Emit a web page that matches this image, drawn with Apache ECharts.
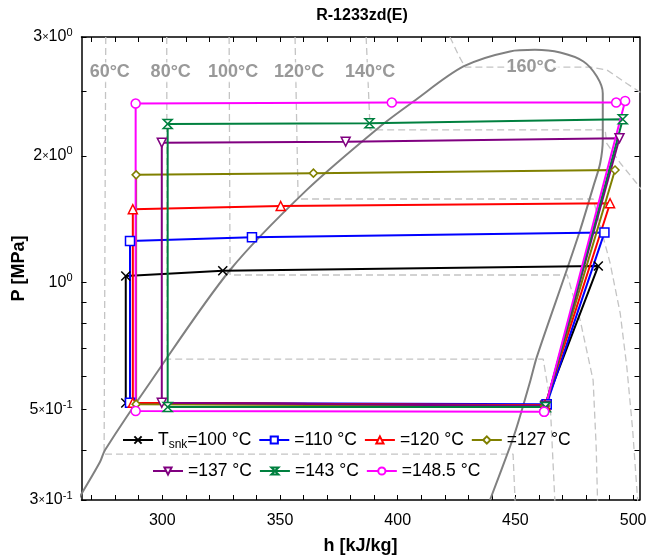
<!DOCTYPE html>
<html><head><meta charset="utf-8">
<script src="https://cdn.jsdelivr.net/npm/echarts@6/dist/echarts.min.js"></script>
<style>html,body{margin:0;padding:0;background:#fff}#c{width:663px;height:559px}</style>
</head><body><div id="c"></div>
<script>
// ---------- data ----------
const seriesNames = ['T_snk=100 °C', '=110 °C', '=120 °C', '=127 °C', '=137 °C', '=143 °C', '=148.5 °C'];
// cycle paths: evaporator outlet -> compressor outlet -> sat. liquid -> subcooled -> after valve -> evaporator outlet
const h100 = [462.6, 485.2, 325.7, 284.5, 284.5, 462.6];
const p100 = [0.512, 1.096, 1.068, 1.037, 0.518, 0.512];
const h110 = [463.3, 487.8, 338.1, 286.3, 286.3, 463.3];
const p110 = [0.515, 1.315, 1.282, 1.256, 0.519, 0.515];
const h120 = [462.6, 490.2, 350.3, 287.5, 287.5, 462.6];
const p120 = [0.512, 1.544, 1.521, 1.494, 0.519, 0.512];
const h127 = [462.6, 492.3, 364.2, 288.9, 288.9, 462.6];
const p127 = [0.510, 1.852, 1.820, 1.803, 0.515, 0.510];
const h137 = [462.8, 494.2, 377.9, 299.8, 299.8, 462.8];
const p137 = [0.510, 2.203, 2.162, 2.150, 0.519, 0.510];
const h143 = [462.8, 495.6, 388.0, 302.3, 302.3, 462.8];
const p143 = [0.507, 2.444, 2.391, 2.382, 0.507, 0.507];
const h148 = [462.2, 496.6, 492.8, 397.5, 288.7, 288.7, 462.2];
const p148 = [0.494, 2.700, 2.677, 2.677, 2.662, 0.496, 0.494];

// saturation dome
const domeH = [264.2, 265.8, 273.6, 275.7, 295.5, 328.8, 361.4, 392.5, 406.7, 427.9, 447.7, 458.3, 469.0, 478.9, 484.6, 487.1, 487.1, 486.0, 483.2, 477.5, 471.8, 459.1, 456.4, 450.6, 447.7, 439.2];
const domeP = [0.305, 0.316, 0.376, 0.401, 0.587, 1.072, 1.661, 2.348, 2.692, 3.26, 3.54, 3.57, 3.518, 3.35, 3.085, 2.818, 2.183, 1.921, 1.70, 1.334, 1.072, 0.667, 0.587, 0.455, 0.408, 0.305];

// isotherms [h, P]
const isoNames = ['60°C', '80°C', '100°C', '120°C', '140°C', '160°C'];
const iso60 = [[276.0, 3.83], [275.3, 0.392], [449.0, 0.392], [449.9, 0.30]];
const iso80 = [[301.9, 3.83], [302.1, 0.659], [461.8, 0.659], [464.7, 0.526], [466.8, 0.30]];
const iso100 = [[328.4, 3.83], [328.8, 1.043], [472.0, 1.043], [477.5, 0.815], [483.0, 0.587], [484.3, 0.408], [484.9, 0.30]];
const iso120 = [[356.4, 3.83], [357.7, 1.58], [483.0, 1.58], [490.2, 1.114], [494.5, 0.847], [497.3, 0.632], [499.8, 0.447], [502.0, 0.30]];
const iso140 = [[386.6, 3.83], [388.3, 2.305], [488.1, 2.305], [488.8, 2.142], [494.5, 1.924], [501.5, 1.722], [505.2, 1.615]];
const iso160 = [[422.2, 3.83], [425.8, 3.47], [428.6, 3.25], [481.7, 3.25], [488.8, 3.20], [497.3, 2.97], [502.7, 2.84], [507.3, 2.76]];

// axes
const xTickValues = [300, 350, 400, 450, 500];
const xTickMarks = [270, 280, 290, 300, 310, 320, 330, 340, 350, 360, 370, 380, 390, 400, 410, 420, 430, 440, 450, 460, 470, 480, 490, 500];
const yTickValues = [0.305, 0.5, 1, 2, 3.83];
const yTickMant = ['3', '5', '', '2', '3'];
const yTickExp = ['-1', '-1', '0', '0', '0'];
const yTickMarks = [0.305, 0.4, 0.5, 0.6, 0.7, 0.8, 0.9, 1, 2, 2.85, 3.83];

// ---------- chart ----------
const FONT = 'Liberation Sans, Arial, sans-serif';
const colors = ['#000000', '#0000ff', '#ff0000', '#808000', '#800080', '#00803f', '#ff00ff'];
const symbols = ['path://M0,0L10,10M10,0L0,10', 'rect', 'triangle', 'diamond', 'path://M0,0L10,0L5,10Z', 'path://M0,0L10,0L0,10L10,10Z', 'circle'];
const symSizes = [9, 9, 9, 8, 9, 9, 9];
const cycH = [h100, h110, h120, h127, h137, h143, h148];
const cycP = [p100, p110, p120, p127, p137, p143, p148];

const zip = (a, b) => a.map((v, i) => [v, b[i]]);
const series = [];
const isoAll = [iso60, iso80, iso100, iso120, iso140, iso160];
isoAll.forEach((d, i) => series.push({
  type: 'line', name: 'iso' + i, data: d, showSymbol: false, silent: true, z: 1,
  lineStyle: { color: '#c4c4c4', width: 1.3, type: [7, 4] }
}));
series.push({
  type: 'line', name: 'dome', data: zip(domeH, domeP), showSymbol: false, silent: true, z: 2, smooth: 0.3,
  lineStyle: { color: '#808080', width: 2 }
});
// isotherm labels
const labelData = isoAll.map((d, i) => {
  if (i < 5) return { name: isoNames[i], value: [d[0][0], 3.16] };
  return { name: isoNames[i], value: [(d[2][0] + d[3][0]) / 2, d[2][1]] };
});
series.push({
  type: 'scatter', name: 'isoLabels', data: labelData, symbolSize: 1, silent: true, z: 3,
  itemStyle: { color: 'rgba(0,0,0,0)' },
  label: { show: true, position: 'inside', offset: [4, 0], formatter: p => p.name, fontFamily: FONT,
    fontWeight: 'bold', fontSize: 18, color: '#808080', backgroundColor: '#fff', padding: [1, 2] }
});
seriesNames.forEach((n, i) => series.push({
  type: 'line', name: n, data: zip(cycH[i], cycP[i]), z: 5,
  symbol: symbols[i], symbolSize: symSizes[i], symbolKeepAspect: true, showAllSymbol: true,
  lineStyle: { color: colors[i], width: 2 },
  itemStyle: { color: i === 0 ? colors[i] : '#fff', borderColor: colors[i], borderWidth: 1.5 },
  emphasis: { disabled: true }
}));

const legendText = {
  fontFamily: FONT, fontSize: 17.5, color: '#000',
  rich: {
    t: { fontFamily: FONT, fontSize: 17.5, color: '#000' },
    s: { fontFamily: FONT, fontSize: 12, color: '#000', padding: [9, 0, 0, 0] }
  }
};
const legendFmt = n => n.startsWith('T_snk') ? '{t|T}{s|snk}{t|' + n.slice(5) + '}' : '{t|' + n + '}';

const yFmt = v => {
  let best = 0, bd = 1e9;
  yTickValues.forEach((t, i) => { const d = Math.abs(Math.log(v) - Math.log(t)); if (d < bd) { bd = d; best = i; } });
  const m = yTickMant[best], e = yTickExp[best];
  return (m ? '{n|' + m + '}{x|×}' : '') + '{n|10}{e|' + e + '}';
};
const yRich = {
  n: { fontFamily: FONT, fontSize: 16, color: '#000' },
  x: { fontFamily: FONT, fontSize: 11, color: '#000' },
  e: { fontFamily: FONT, fontSize: 11, color: '#000', padding: [0, 0, 9, 0] }
};

const axLine = { show: true, onZero: false, lineStyle: { color: '#000', width: 1.5 } };
const option = {
  animation: false,
  backgroundColor: '#fff',
  grid: { left: 81.5, right: 23.5, top: 37, bottom: 59, containLabel: false, outerBoundsMode: 'none' },
  graphic: [{ type: 'text', x: 362, y: 16, style: { text: 'R-1233zd(E)', textAlign: 'center', textVerticalAlign: 'middle', font: 'bold 16px ' + FONT, fill: '#000' } }],
  legend: [
    { data: seriesNames.slice(0, 4), left: 117, top: 426, itemWidth: 30, itemHeight: 9, itemGap: 7, textStyle: legendText, formatter: legendFmt, selectedMode: false },
    { data: seriesNames.slice(4), left: 147, top: 457, itemWidth: 30, itemHeight: 9, itemGap: 7, textStyle: legendText, formatter: legendFmt, selectedMode: false }
  ],
  xAxis: [
    { type: 'value', min: 265.7, max: 502.7, position: 'bottom', axisLine: axLine,
      axisTick: { show: true, inside: true, length: 5, customValues: xTickMarks, lineStyle: { color: '#000' } },
      axisLabel: { customValues: xTickValues, fontFamily: FONT, fontSize: 16, color: '#000', margin: 13 },
      splitLine: { show: false },
      name: 'h [kJ/kg]', nameLocation: 'middle', nameGap: 37, nameMoveOverlap: false,
      nameTextStyle: { fontFamily: FONT, fontWeight: 'bold', fontSize: 18, color: '#000' } },
    { type: 'value', min: 265.7, max: 502.7, position: 'top', axisLine: axLine,
      axisTick: { show: true, inside: true, length: 5, customValues: xTickMarks, lineStyle: { color: '#000' } },
      axisLabel: { show: false }, splitLine: { show: false } }
  ],
  yAxis: [
    { type: 'log', logBase: 10, min: 0.305, max: 3.83, position: 'left', axisLine: axLine,
      axisTick: { show: true, inside: true, length: 5, customValues: yTickMarks, lineStyle: { color: '#000' } },
      axisLabel: { customValues: yTickValues, formatter: yFmt, rich: yRich, margin: 9 },
      splitLine: { show: false }, minorTick: { show: false },
      name: 'P [MPa]', nameLocation: 'middle', nameGap: 53, nameRotate: 90, nameMoveOverlap: false,
      nameTextStyle: { fontFamily: FONT, fontWeight: 'bold', fontSize: 18, color: '#000' } },
    { type: 'log', logBase: 10, min: 0.305, max: 3.83, position: 'right', axisLine: axLine,
      axisTick: { show: true, inside: true, length: 5, customValues: yTickMarks, lineStyle: { color: '#000' } },
      axisLabel: { show: false }, splitLine: { show: false } }
  ],
  series: series
};
const chart = echarts.init(document.getElementById('c'), null, { renderer: 'canvas' });
chart.setOption(option);
</script>
</body></html>
